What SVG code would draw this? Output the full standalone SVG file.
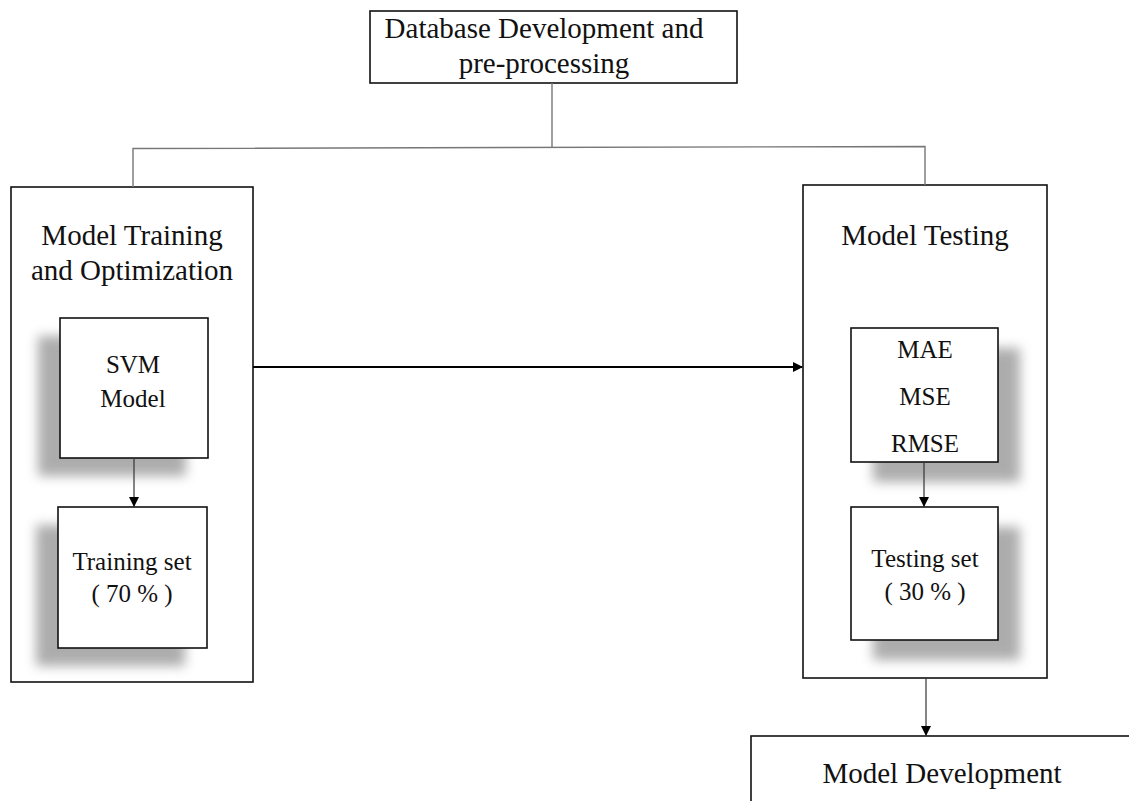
<svg xmlns="http://www.w3.org/2000/svg" width="1129" height="801" viewBox="0 0 1129 801">
<style>
.box{fill:#fff;stroke:#111;stroke-width:1.6}
.gray{fill:none;stroke:#777;stroke-width:1.4}
.thin{fill:none;stroke:#333;stroke-width:1.2}
.thick{fill:none;stroke:#000;stroke-width:2.2}
.shadow{fill:#8a8a8a;opacity:0.7;filter:url(#blur)}
</style>
<defs>
<filter id="blur" x="-30%" y="-30%" width="160%" height="160%"><feGaussianBlur stdDeviation="6"/></filter>
<marker id="ah" markerWidth="10" markerHeight="10" refX="9" refY="5" orient="auto" markerUnits="userSpaceOnUse"><path d="M0,0 L10,5 L0,10 Z" fill="#000"/></marker>
</defs>
<rect width="1129" height="801" fill="#fff"/>

<g font-family="'Liberation Serif', 'Times New Roman', serif" fill="#111" text-anchor="middle">

<g id="node-database">
<rect class="box" x="370" y="11" width="367" height="72"/>
<text x="544" y="38" font-size="29">Database Development and</text>
<text x="544" y="73" font-size="29">pre-processing</text>
</g>

<g id="node-training-group">
<rect class="box" x="11" y="187" width="242" height="495"/>
<text x="132" y="245" font-size="29">Model Training</text>
<text x="132" y="280" font-size="29">and Optimization</text>
</g>

<g id="node-testing-group">
<rect class="box" x="803" y="185" width="244" height="493"/>
<text x="925" y="245" font-size="29">Model Testing</text>
</g>

<g id="node-svm">
<rect class="shadow" x="38" y="336" width="148" height="140"/>
<rect class="box" x="60" y="318" width="148" height="140"/>
<text x="133" y="373" font-size="25">SVM</text>
<text x="133" y="407" font-size="25">Model</text>
</g>

<g id="node-training-set">
<rect class="shadow" x="36" y="525" width="149" height="141"/>
<rect class="box" x="58" y="507" width="149" height="141"/>
<text x="132" y="570" font-size="25">Training set</text>
<text x="132" y="602" font-size="25">( 70 % )</text>
</g>

<g id="node-metrics">
<rect class="shadow" x="873" y="348" width="147" height="134"/>
<rect class="box" x="851" y="328" width="147" height="134"/>
<text x="925" y="358" font-size="25">MAE</text>
<text x="925" y="405" font-size="25">MSE</text>
<text x="925" y="452" font-size="25">RMSE</text>
</g>

<g id="node-testing-set">
<rect class="shadow" x="873" y="527" width="147" height="133"/>
<rect class="box" x="851" y="507" width="147" height="133"/>
<text x="925" y="567" font-size="25">Testing set</text>
<text x="925" y="600" font-size="25">( 30 % )</text>
</g>

<g id="node-model-development">
<rect class="box" x="751" y="736" width="500" height="100"/>
<text x="942" y="783" font-size="29">Model Development</text>
</g>

</g>

<g id="connectors">
<path class="gray" d="M552,83 V147"/>
<path class="gray" d="M133,187 V148.5 L925,146.5 V185"/>
<path class="thick" d="M253,367 H802" marker-end="url(#ah)"/>
<path class="thin" d="M134,458 V506" marker-end="url(#ah)"/>
<path class="thin" d="M924,462 V506" marker-end="url(#ah)"/>
<path class="thin" d="M926,678 V735" marker-end="url(#ah)"/>
</g>
</svg>
